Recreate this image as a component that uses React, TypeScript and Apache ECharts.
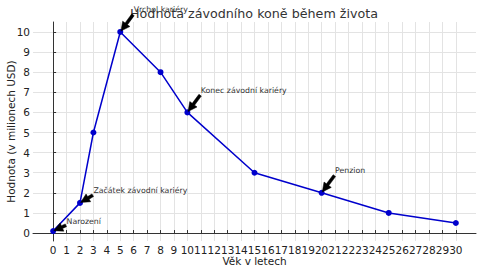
import React, { useEffect, useRef } from "react";
import * as echarts from "echarts";

const ages = [0, 2, 3, 5, 8, 10, 15, 20, 25, 30];
const values = [0.1, 1.5, 5, 10, 8, 6, 3, 2, 1, 0.5];
const xTicks = Array.from({ length: 31 }, (_, i) => i);
const yTicks = [0, 1, 2, 3, 4, 5, 6, 7, 8, 9, 10];

const annotationLabels = ["Narození", "Začátek závodní kariéry", "Vrchol kariéry", "Konec závodní kariéry", "Penzion"];
const annotationAges = [0, 2, 5, 10, 20];
const annotationValues = [0.1, 1.5, 10, 6, 2];
const annotationTextAges = [1, 3, 6, 11, 21];
const annotationTextValues = [0.5, 2, 11, 7, 3];

const FONT = "DejaVu Sans";

function arrowPoints(tx: number, ty: number, hx: number, hy: number) {
  const dx = hx - tx, dy = hy - ty;
  const len0 = Math.hypot(dx, dy);
  const shrink = 0.05 * len0;
  const ux = dx / len0, uy = dy / len0;
  const sx = tx + ux * shrink, sy = ty + uy * shrink;
  const ex = hx - ux * shrink, ey = hy - uy * shrink;
  const len = len0 - 2 * shrink;
  const hl = Math.min(9, len);
  const hw = 9, w = 3;
  const nx = -uy, ny = ux;
  const bx = ex - ux * hl, by = ey - uy * hl;
  return [
    [sx + nx * w / 2, sy + ny * w / 2],
    [bx + nx * w / 2, by + ny * w / 2],
    [bx + nx * hw / 2, by + ny * hw / 2],
    [ex, ey],
    [bx - nx * hw / 2, by - ny * hw / 2],
    [bx - nx * w / 2, by - ny * w / 2],
    [sx - nx * w / 2, sy - ny * w / 2],
  ];
}

export default function App() {
  const ref = useRef<HTMLDivElement>(null);
  useEffect(() => {
    if (!ref.current) return;
    const chart = echarts.init(ref.current, null, { renderer: "svg" });
    const axisText = { color: "#222", fontFamily: FONT, fontSize: 10.5 };
    chart.setOption({
      animation: false,
      backgroundColor: "#fff",
      title: {
        text: "Hodnota závodního koně během života",
        left: 254,
        textAlign: "center",
        top: 7,
        padding: 0,
        textStyle: { fontFamily: FONT, fontSize: 12.7, fontWeight: "normal", color: "#333" },
      },
      grid: { left: 33, right: 4, top: 22, bottom: 31, containLabel: false, outerBoundsMode: "none" },
      xAxis: {
        type: "value",
        min: -1.5,
        max: 31.5,
        name: "Věk v letech",
        nameLocation: "middle",
        nameGap: 14,
        nameMoveOverlap: false,
        nameTextStyle: axisText,
        axisLine: { show: true, lineStyle: { color: "#333", width: 1 } },
        axisTick: { show: true, inside: true, length: 3, customValues: xTicks, lineStyle: { color: "#333" } },
        axisLabel: { ...axisText, margin: 3, customValues: xTicks, hideOverlap: false, showMinLabel: true, showMaxLabel: true },
        splitLine: { show: true, lineStyle: { color: "#e3e3e3", width: 1 } },
      },
      yAxis: {
        type: "value",
        min: -0.395,
        max: 10.495,
        name: "Hodnota (v milionech USD)",
        nameLocation: "middle",
        nameGap: 17,
        nameMoveOverlap: false,
        nameTextStyle: axisText,
        axisLine: { show: true, lineStyle: { color: "#333", width: 1 } },
        axisTick: { show: true, inside: true, length: 3, customValues: yTicks, lineStyle: { color: "#333" } },
        axisLabel: { ...axisText, margin: 3, customValues: yTicks, hideOverlap: false },
        splitLine: { show: true, lineStyle: { color: "#e3e3e3", width: 1 } },
      },
      series: [
        {
          type: "line",
          data: ages.map((a, i) => [a, values[i]]),
          symbol: "circle",
          symbolSize: 6,
          clip: false,
          lineStyle: { color: "#0000cc", width: 1.5 },
          itemStyle: { color: "#0000cc" },
        },
      ],
    });

    const graphics: any[] = [];
    annotationLabels.forEach((label, i) => {
      const p = chart.convertToPixel({ gridIndex: 0 }, [annotationAges[i], annotationValues[i]]) as number[];
      const t = chart.convertToPixel({ gridIndex: 0 }, [annotationTextAges[i], annotationTextValues[i]]) as number[];
      graphics.push({
        type: "polygon",
        z: 100,
        shape: { points: arrowPoints(t[0], t[1] + 2, p[0], p[1]) },
        style: { fill: "#000", stroke: "#000", lineWidth: 0.5 },
      });
      graphics.push({
        type: "text",
        z: 100,
        x: t[0],
        y: t[1] + 2,
        style: {
          text: label,
          fontFamily: FONT,
          fontSize: 7.8,
          fill: "#333",
          textAlign: "left",
          textVerticalAlign: "bottom",
        },
      });
    });
    chart.setOption({ graphic: graphics });
    return () => chart.dispose();
  }, []);
  return (
    <div
      ref={ref}
      style={{ position: "fixed", left: 0, top: 0, width: 480, height: 272, background: "#fff" }}
    />
  );
}
